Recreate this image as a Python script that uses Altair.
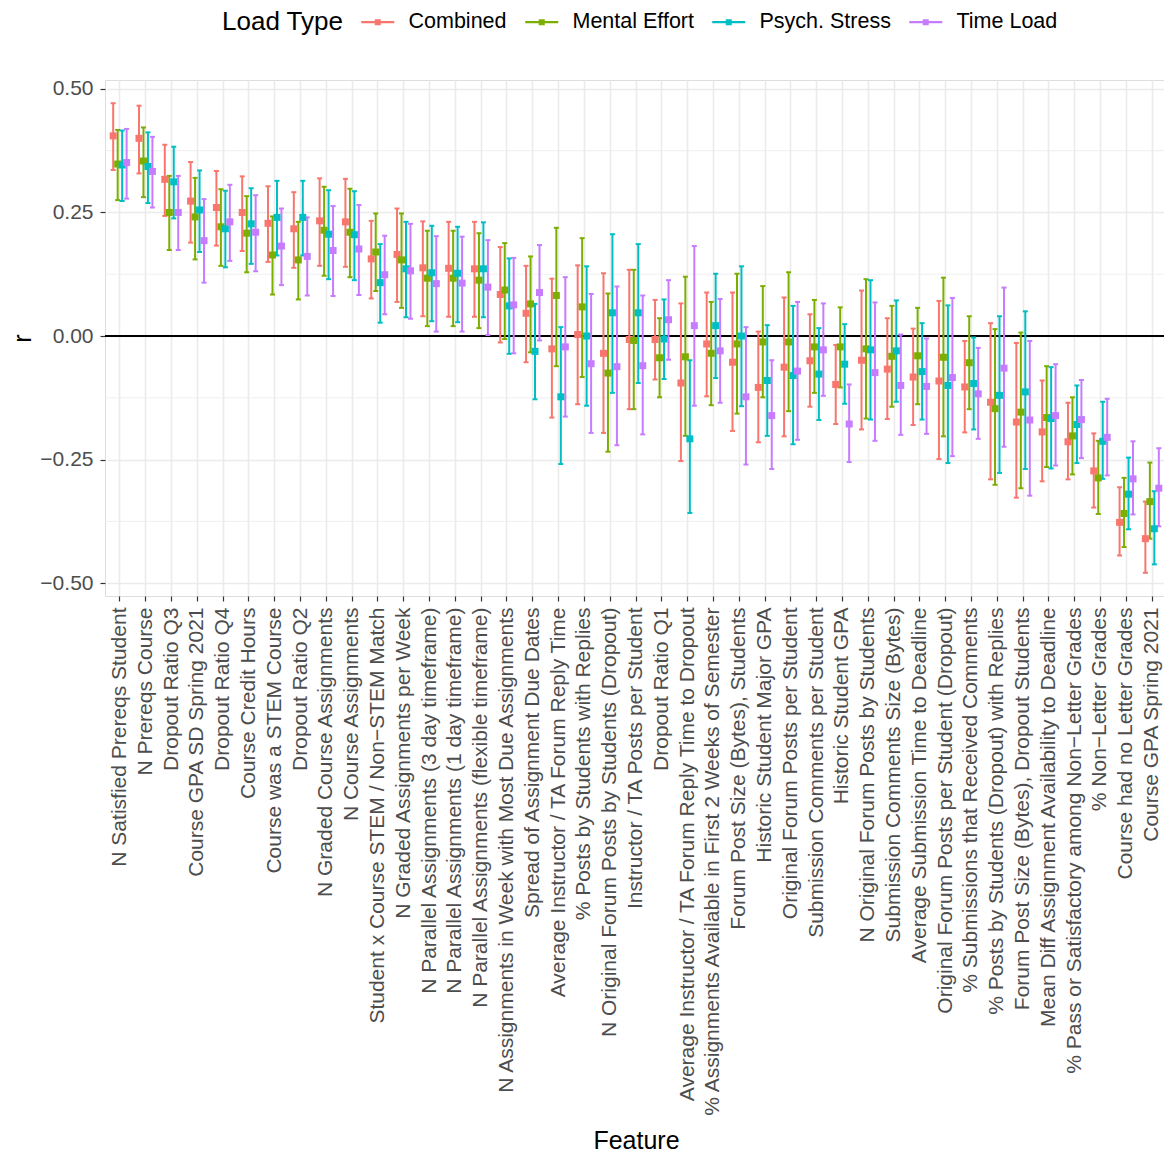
import altair as alt
import pandas as pd

features = [
    "N Satisfied Prereqs Student",
    "N Prereqs Course",
    "Dropout Ratio Q3",
    "Course GPA SD Spring 2021",
    "Dropout Ratio Q4",
    "Course Credit Hours",
    "Course was a STEM Course",
    "Dropout Ratio Q2",
    "N Graded Course Assignments",
    "N Course Assignments",
    "Student x Course STEM / Non\u2212STEM Match",
    "N Graded Assignments per Week",
    "N Parallel Assignments (3 day timeframe)",
    "N Parallel Assignments (1 day timeframe)",
    "N Parallel Assignments (flexible timeframe)",
    "N Assignments in Week with Most Due Assignments",
    "Spread of Assignment Due Dates",
    "Average Instructor / TA Forum Reply Time",
    "% Posts by Students with Replies",
    "N Original Forum Posts by Students (Dropout)",
    "Instructor / TA Posts per Student",
    "Dropout Ratio Q1",
    "Average Instructor / TA Forum Reply Time to Dropout",
    "% Assignments Available in First 2 Weeks of Semester",
    "Forum Post Size (Bytes), Students",
    "Historic Student Major GPA",
    "Original Forum Posts per Student",
    "Submission Comments per Student",
    "Historic Student GPA",
    "N Original Forum Posts by Students",
    "Submission Comments Size (Bytes)",
    "Average Submission Time to Deadline",
    "Original Forum Posts per Student (Dropout)",
    "% Submissions that Received Comments",
    "% Posts by Students (Dropout) with Replies",
    "Forum Post Size (Bytes), Dropout Students",
    "Mean Diff Assignment Availability to Deadline",
    "% Pass or Satisfactory among Non\u2212Letter Grades",
    "% Non\u2212Letter Grades",
    "Course had no Letter Grades",
    "Course GPA Spring 2021",
]

series = ["Combined", "Mental Effort", "Psych. Stress", "Time Load"]
colors = ["#F8766D", "#7CAE00", "#00BFC4", "#C77CFF"]

combined_r = [0.405, 0.400, 0.317, 0.273, 0.260, 0.250, 0.228, 0.217, 0.233, 0.231,
              0.156, 0.165, 0.138, 0.137, 0.136, 0.084, 0.046, -0.026, 0.003, -0.035,
              -0.007, -0.007, -0.095, -0.016, -0.053, -0.104, -0.063, -0.050, -0.098, -0.049,
              -0.067, -0.083, -0.091, -0.103, -0.134, -0.174, -0.194, -0.214, -0.273, -0.377,
              -0.410]
combined_lo = [0.336, 0.329, 0.243, 0.189, 0.183, 0.172, 0.150, 0.138, 0.142, 0.140,
               0.076, 0.069, 0.040, 0.039, 0.039, -0.013, -0.053, -0.165, -0.138, -0.196,
               -0.148, -0.088, -0.253, -0.122, -0.192, -0.215, -0.203, -0.143, -0.178, -0.189,
               -0.168, -0.180, -0.249, -0.195, -0.290, -0.327, -0.294, -0.290, -0.347, -0.444,
               -0.479]
combined_hi = [0.471, 0.466, 0.387, 0.352, 0.334, 0.323, 0.303, 0.291, 0.319, 0.318,
               0.233, 0.258, 0.232, 0.231, 0.231, 0.180, 0.142, 0.116, 0.143, 0.127,
               0.134, 0.073, 0.066, 0.088, 0.088, 0.009, 0.078, 0.044, -0.018, 0.092,
               0.036, 0.015, 0.071, -0.010, 0.026, -0.014, -0.090, -0.135, -0.197, -0.306,
               -0.335]

mental_r = [0.348, 0.354, 0.250, 0.241, 0.221, 0.208, 0.164, 0.154, 0.214, 0.210,
            0.170, 0.154, 0.117, 0.117, 0.113, 0.093, 0.065, 0.082, 0.059, -0.075,
            -0.009, -0.044, -0.042, -0.035, -0.016, -0.012, -0.012, -0.022, -0.022, -0.026,
            -0.041, -0.040, -0.043, -0.054, -0.147, -0.154, -0.165, -0.202, -0.287, -0.359,
            -0.335]
mental_lo = [0.275, 0.281, 0.174, 0.155, 0.142, 0.129, 0.084, 0.074, 0.122, 0.119,
             0.091, 0.057, 0.020, 0.020, 0.016, -0.006, -0.033, -0.061, -0.083, -0.234,
             -0.148, -0.124, -0.202, -0.140, -0.157, -0.124, -0.152, -0.115, -0.104, -0.167,
             -0.143, -0.138, -0.203, -0.148, -0.301, -0.308, -0.265, -0.280, -0.360, -0.427,
             -0.410]
mental_hi = [0.417, 0.422, 0.324, 0.320, 0.297, 0.283, 0.242, 0.231, 0.302, 0.298,
             0.248, 0.248, 0.213, 0.213, 0.208, 0.188, 0.161, 0.219, 0.198, 0.086,
             0.134, 0.036, 0.120, 0.069, 0.126, 0.101, 0.129, 0.073, 0.058, 0.115,
             0.061, 0.057, 0.118, 0.040, 0.014, 0.007, -0.061, -0.124, -0.212, -0.287,
             -0.256]

stress_r = [0.346, 0.343, 0.312, 0.255, 0.217, 0.227, 0.240, 0.240, 0.206, 0.205,
            0.108, 0.136, 0.128, 0.127, 0.136, 0.061, -0.031, -0.123, 0.000, 0.047,
            0.047, -0.006, -0.208, 0.021, 0.000, -0.090, -0.080, -0.077, -0.057, -0.028,
            -0.030, -0.072, -0.100, -0.096, -0.120, -0.113, -0.167, -0.179, -0.213, -0.320,
            -0.390]
stress_lo = [0.273, 0.269, 0.238, 0.170, 0.139, 0.146, 0.163, 0.163, 0.115, 0.113,
             0.027, 0.038, 0.030, 0.028, 0.038, -0.036, -0.128, -0.259, -0.141, -0.115,
             -0.095, -0.087, -0.358, -0.085, -0.142, -0.202, -0.219, -0.170, -0.137, -0.169,
             -0.133, -0.169, -0.257, -0.189, -0.277, -0.269, -0.268, -0.257, -0.289, -0.391,
             -0.462]
stress_hi = [0.416, 0.412, 0.383, 0.335, 0.294, 0.299, 0.314, 0.314, 0.295, 0.293,
             0.186, 0.231, 0.223, 0.221, 0.230, 0.157, 0.065, 0.018, 0.141, 0.206,
             0.186, 0.074, -0.049, 0.126, 0.141, 0.022, 0.061, 0.016, 0.024, 0.113,
             0.072, 0.026, 0.062, -0.003, 0.040, 0.050, -0.063, -0.100, -0.133, -0.246,
             -0.314]

time_r = [0.351, 0.333, 0.250, 0.193, 0.231, 0.210, 0.182, 0.161, 0.173, 0.176,
          0.124, 0.132, 0.106, 0.107, 0.099, 0.063, 0.088, -0.022, -0.056, -0.062,
          -0.060, 0.033, 0.021, -0.030, -0.123, -0.161, -0.071, -0.028, -0.178, -0.074,
          -0.100, -0.102, -0.084, -0.117, -0.065, -0.170, -0.161, -0.169, -0.205, -0.289,
          -0.308]
time_lo = [0.278, 0.260, 0.174, 0.108, 0.152, 0.131, 0.103, 0.082, 0.081, 0.083,
           0.044, 0.035, 0.009, 0.009, 0.002, -0.035, -0.009, -0.163, -0.196, -0.221,
           -0.199, -0.048, -0.141, -0.135, -0.260, -0.269, -0.210, -0.121, -0.255, -0.212,
           -0.200, -0.198, -0.243, -0.208, -0.224, -0.323, -0.262, -0.247, -0.282, -0.361,
           -0.385]
time_hi = [0.419, 0.403, 0.324, 0.277, 0.306, 0.285, 0.258, 0.240, 0.263, 0.265,
           0.203, 0.227, 0.202, 0.201, 0.194, 0.158, 0.184, 0.119, 0.085, 0.100,
           0.082, 0.113, 0.182, 0.075, 0.018, -0.049, 0.069, 0.066, -0.098, 0.068,
           0.003, -0.005, 0.077, -0.024, 0.098, -0.010, -0.057, -0.089, -0.127, -0.213,
           -0.227]

y_ticks = [-0.5, -0.25, 0.0, 0.25, 0.5]
minor_grid = [-0.375, -0.125, 0.125, 0.375]

rows = []
for s, est, lo, hi in zip(series,
                          [combined_r, mental_r, stress_r, time_r],
                          [combined_lo, mental_lo, stress_lo, time_lo],
                          [combined_hi, mental_hi, stress_hi, time_hi]):
    assert len(est) == len(lo) == len(hi) == len(features)
    for f, e, l, h in zip(features, est, lo, hi):
        rows.append({"Feature": f, "Load Type": s, "r": e, "lo": l, "hi": h})
df = pd.DataFrame(rows)

FONT = "Liberation Sans"
W, H = 1059, 516

x_enc = alt.X(
    "Feature:N",
    sort=features,
    title="Feature",
    scale=alt.Scale(domain=features, paddingInner=0, paddingOuter=0, range=[2, 1060]),
    axis=alt.Axis(
        labelAngle=-90, labelFontSize=21, labelColor="#4D4D4D", labelLimit=1000,
        labelPadding=6, tickColor="#333333", tickSize=5, tickWidth=1.2,
        domain=False, grid=True, gridColor="#EBEBEB", gridWidth=1.6,
        titleFontSize=25, titleFontWeight="normal", titleColor="black",
        titleY=544, titleBaseline="middle", labelFont=FONT, titleFont=FONT,
    ),
)
xo_enc = alt.XOffset("Load Type:N", sort=series,
                     scale=alt.Scale(domain=series, paddingInner=0, paddingOuter=0.88))

y_scale = alt.Scale(domain=[-0.526, 0.518], nice=False, zero=False)
y_axis = alt.Axis(
    values=y_ticks, format=".2f", labelFontSize=21, labelColor="#4D4D4D",
    tickColor="#333333", tickSize=5, tickWidth=1.2, domain=False,
    grid=True, gridColor="#EBEBEB", gridWidth=1.6, labelPadding=7,
    titleFontSize=25, titleFontWeight="normal", titleColor="black",
    titleX=-83, titleBaseline="middle", labelFont=FONT, titleFont=FONT,
)
color_scale = alt.Scale(domain=series, range=colors)

# legend key: a horizontal error-bar line with a square, 33px wide
legend_path = ("M-1.65,-0.11L1.65,-0.11L1.65,0.11L-1.65,0.11Z "
               "M-0.3,-0.3L0.3,-0.3L0.3,0.3L-0.3,0.3Z")

legend = alt.Legend(
    title="Load Type", orient="none", direction="horizontal",
    legendX=117, legendY=-69, titleOrient="left",
    titleFontSize=26, titleFontWeight="normal", titleColor="black",
    titleFont=FONT, titlePadding=23,
    labelFontSize=21.5, labelFont=FONT, labelColor="black",
    labelOffset=20, columnPadding=18,
    symbolType=legend_path, symbolSize=400, symbolStrokeWidth=0,
    symbolOpacity=1,
)
color_enc = alt.Color("Load Type:N", scale=color_scale, legend=legend)

minor_df = pd.DataFrame({"r": minor_grid})
zero_df = pd.DataFrame({"r": [0.0]})

minor = alt.Chart(minor_df).mark_rule(color="#EBEBEB", strokeWidth=0.8).encode(
    y=alt.Y("r:Q", scale=y_scale, axis=y_axis, title="r")
)
zero = alt.Chart(zero_df).mark_rule(color="black", strokeWidth=2).encode(
    y=alt.Y("r:Q", scale=y_scale, axis=y_axis, title="r")
)

base = alt.Chart(df)
bars = base.mark_rule(strokeWidth=2).encode(
    x=x_enc, xOffset=xo_enc,
    y=alt.Y("lo:Q", scale=y_scale, axis=y_axis, title="r"),
    y2="hi:Q",
    color=color_enc,
)
caps_lo = base.mark_tick(size=5, thickness=2, opacity=1).encode(
    x=x_enc, xOffset=xo_enc,
    y=alt.Y("lo:Q", scale=y_scale, axis=y_axis, title="r"),
    color=color_enc,
)
caps_hi = base.mark_tick(size=5, thickness=2, opacity=1).encode(
    x=x_enc, xOffset=xo_enc,
    y=alt.Y("hi:Q", scale=y_scale, axis=y_axis, title="r"),
    color=color_enc,
)
points = base.mark_square(size=49, opacity=1, filled=True).encode(
    x=x_enc, xOffset=xo_enc,
    y=alt.Y("r:Q", scale=y_scale, axis=y_axis, title="r"),
    color=color_enc,
)

chart = alt.layer(minor, zero, bars, caps_lo, caps_hi, points).properties(
    width=W, height=H,
    autosize=alt.AutoSizeParams(type="none"),
    padding={"left": 97, "top": 72, "right": 0, "bottom": 557},
).configure_view(
    stroke="#333333", strokeWidth=1.2
).configure(font=FONT, background="white")

chart.save("out.html", embed_options={"renderer": "svg", "actions": False})
